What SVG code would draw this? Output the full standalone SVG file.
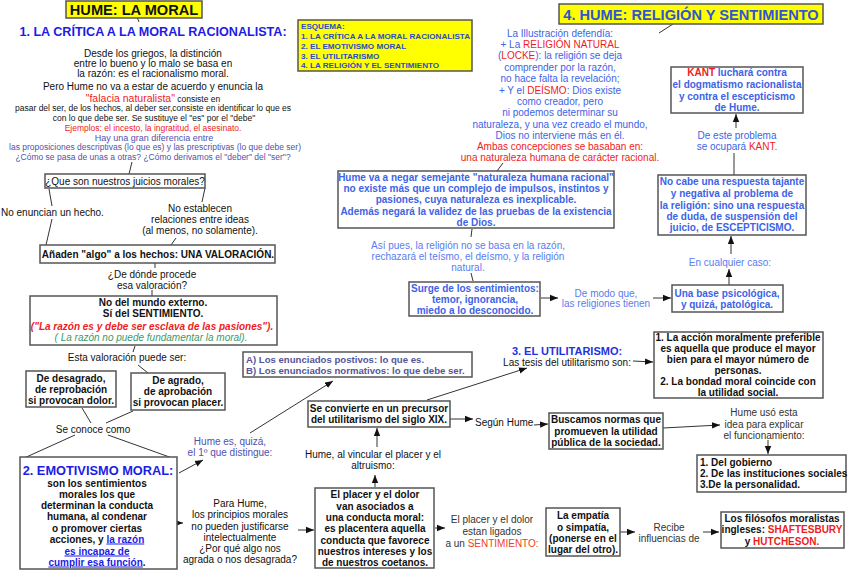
<svg xmlns="http://www.w3.org/2000/svg" width="848" height="570" viewBox="0 0 848 570">
<style>
text{font-family:"Liberation Sans",Arial,sans-serif;font-size:10px;fill:#111}
.c{text-anchor:middle}
.b{font-weight:bold}
.box{fill:#fff;stroke:#555;stroke-width:1.5}
.ybox{fill:#ffff00;stroke:#555;stroke-width:1.5}
.ln{stroke:#333;stroke-width:1;fill:none}
.ar{stroke:#333;stroke-width:1;fill:none;marker-end:url(#ah)}
.blue{fill:#3d63e6}
.lb{fill:#5a7cf0}
.red{fill:#ee1c1c}
.pur{fill:#5252a8}
.sec{fill:#1c1ce6;font-weight:bold}
.sm{font-size:8.5px}
.esq{font-size:8.1px;font-weight:bold;fill:#2a4cc8}
.ab{font-size:9.6px;font-weight:bold;fill:#55559a}
</style>
<defs>
<marker id="ah" viewBox="0 0 10 10" refX="10" refY="5" markerWidth="8" markerHeight="8" markerUnits="userSpaceOnUse" orient="auto"><path d="M0,1 L10,5 L0,9 z" fill="#111"/></marker>
</defs>

<g id="connectors">
<line class="ln" x1="137" y1="17" x2="139" y2="22"/>
<line class="ln" x1="132" y1="162" x2="129" y2="174"/>
<line class="ln" x1="49" y1="189" x2="52" y2="206"/>
<line class="ln" x1="52" y1="219" x2="46" y2="245"/>
<line class="ln" x1="205" y1="188" x2="202" y2="202"/>
<line class="ln" x1="171" y1="245" x2="176" y2="238"/>
<line class="ln" x1="155" y1="263" x2="155" y2="268"/>
<line class="ln" x1="152" y1="290" x2="152" y2="296"/>
<line class="ln" x1="135" y1="346" x2="133" y2="352"/>
<line class="ln" x1="138" y1="365" x2="148" y2="373"/>
<line class="ln" x1="82" y1="408" x2="91" y2="423"/>
<line class="ln" x1="133" y1="411" x2="106" y2="423"/>
<line class="ln" x1="75" y1="435" x2="22" y2="459"/>
<line class="ln" x1="108" y1="435" x2="175" y2="459"/>
<line class="ar" x1="179" y1="473" x2="203" y2="460"/>
<line class="ar" x1="250" y1="433" x2="333" y2="381"/>
<line class="ar" x1="177" y1="523" x2="183" y2="523"/>
<line class="ar" x1="298" y1="530" x2="314" y2="530"/>
<line class="ar" x1="375" y1="487" x2="375" y2="475"/>
<line class="ar" x1="377" y1="447" x2="377" y2="428"/>
<line class="ar" x1="427" y1="400" x2="527" y2="368"/>
<line class="ar" x1="633" y1="361" x2="653" y2="362"/>
<line class="ar" x1="450" y1="419" x2="473" y2="419"/>
<line class="ar" x1="534" y1="425" x2="548" y2="424"/>
<line class="ar" x1="663" y1="428" x2="720" y2="425"/>
<line class="ar" x1="768" y1="440" x2="768" y2="454"/>
<line class="ar" x1="435" y1="528" x2="445" y2="528"/>
<line class="ar" x1="620" y1="532" x2="635" y2="532"/>
<line class="ar" x1="703" y1="532" x2="719" y2="532"/>
<line class="ln" x1="673" y1="24" x2="659" y2="33"/>
<line class="ln" x1="503" y1="163" x2="497" y2="171"/>
<line class="ln" x1="472" y1="229" x2="471" y2="237"/>
<line class="ln" x1="471" y1="273" x2="473" y2="281"/>
<line class="ar" x1="541" y1="298" x2="558" y2="298"/>
<line class="ar" x1="653" y1="298" x2="671" y2="298"/>
<line class="ar" x1="729" y1="285" x2="729" y2="269"/>
<line class="ar" x1="731" y1="254" x2="731" y2="236"/>
<line class="ln" x1="734" y1="153" x2="734" y2="175"/>
<line class="ar" x1="736" y1="128" x2="736" y2="114"/>
</g>

<g id="title">
<rect class="ybox" x="66" y="1" width="136" height="17"/>
<text class="c b" x="134" y="15" style="font-size:14.6px">HUME: LA MORAL</text>
</g>

<g id="sec1">
<text class="c sec" x="153" y="36" style="font-size:12.6px">1. LA CRÍTICA A LA MORAL RACIONALISTA:</text>
<text class="c" x="153" y="57">Desde los griegos, la distinción</text>
<text class="c" x="153" y="67">entre lo bueno y lo malo se basa en</text>
<text class="c" x="153" y="77">la razón: es el racionalismo moral.</text>
<text class="c" x="153" y="90">Pero Hume no va  a estar de acuerdo y enuncia la</text>
<text class="c" x="153" y="102"><tspan class="red" style="font-size:10.5px">"falacia naturalista"</tspan><tspan class="sm"> consiste en</tspan></text>
<text class="c sm" x="153" y="111">pasar del ser, de los hechos, al deber ser,consiste en identificar lo que es</text>
<text class="c sm" x="154" y="121">con lo que debe ser. Se sustituye el "es" por el "debe"</text>
<text class="c sm red" x="153" y="131">Ejemplos: el incesto, la ingratitud, el asesinato.</text>
<text class="c pur" x="154" y="141" style="font-size:9px">Hay una gran diferencia entre</text>
<text class="c sm pur" x="155" y="150">las proposiciones descriptivas (lo que es) y las prescriptivas (lo que debe ser)</text>
<text class="c sm pur" x="153" y="160">¿Cómo se pasa de unas a otras? ¿Cómo derivamos el "deber" del "ser"?</text>
</g>

<g id="esquema">
<rect class="ybox" x="298" y="20" width="174" height="51"/>
<text class="esq" x="301" y="29">ESQUEMA:</text>
<text class="esq" x="301" y="39">1. LA CRÍTICA A LA MORAL RACIONALISTA</text>
<text class="esq" x="301" y="49">2. EL EMOTIVISMO MORAL</text>
<text class="esq" x="301" y="58.5">3. EL UTILITARISMO</text>
<text class="esq" x="301" y="68">4. LA RELIGIÓN Y EL SENTIMIENTO</text>
</g>

<g id="q-juicios">
<rect class="box" x="45" y="174" width="160" height="14"/>
<text class="c" x="125" y="184.5">¿Que son nuestros juicios morales?</text>
</g>
<g id="no-enuncian"><text x="1" y="215.5">No enuncian un hecho.</text></g>
<g id="no-establecen">
<text class="c" x="200" y="211.5">No establecen</text>
<text class="c" x="200" y="222.5">relaciones entre ideas</text>
<text class="c" x="200" y="233.5">(al menos, no solamente).</text>
</g>
<g id="anaden">
<rect class="box" x="40" y="245" width="235" height="18"/>
<text class="c b" x="158" y="257.5">Añaden "algo" a los hechos: UNA VALORACIÓN.</text>
</g>
<g id="de-donde">
<text class="c" x="152" y="277.5">¿De dónde procede</text>
<text class="c" x="152" y="289">esa valoración?</text>
</g>
<g id="sentimiento">
<rect class="box" x="30" y="296" width="247" height="49"/>
<text class="c b" x="153" y="305.5">No del mundo externo.</text>
<text class="c b" x="153" y="316.5">Sí del SENTIMIENTO.</text>
<text class="c b red" x="152" y="329.5" style="font-style:italic">("La razón es y debe ser esclava de las pasiones").</text>
<text class="c" x="151" y="340.5" style="font-style:italic;fill:#3a9a6a">( La razón no puede fundamentar la moral).</text>
</g>
<g id="esta-valoracion"><text class="c" x="127" y="360.5">Esta valoración puede ser:</text></g>
<g id="desagrado">
<rect class="box" x="26" y="371" width="90" height="36"/>
<text class="c b" x="71" y="381.5">De desagrado,</text>
<text class="c b" x="71" y="392.5">de reprobación</text>
<text class="c b" x="71" y="403.5">si provocan dolor.</text>
</g>
<g id="agrado">
<rect class="box" x="131" y="373" width="94" height="37"/>
<text class="c b" x="178" y="383.5">De agrado,</text>
<text class="c b" x="178" y="394.5">de aprobación</text>
<text class="c b" x="178" y="405.5">si provocan placer.</text>
</g>
<g id="se-conoce"><text class="c" x="93" y="432.5">Se conoce como</text></g>
<g id="emotivismo">
<rect class="box" x="20" y="457" width="157" height="112"/>
<text class="c sec" x="98" y="474.5" style="font-size:12.8px">2. EMOTIVISMO MORAL:</text>
<text class="c b" x="97" y="486.5">son los sentimientos</text>
<text class="c b" x="97" y="497.5">morales los que</text>
<text class="c b" x="97" y="508.5">determinan la conducta</text>
<text class="c b" x="97" y="519.5">humana, al condenar</text>
<text class="c b" x="97" y="531.5">o promover ciertas</text>
<text class="c b" x="97" y="542.5">acciones, y <tspan style="fill:#1c1ce6;text-decoration:underline">la razón </tspan></text>
<text class="c b" x="97" y="554.5"><tspan style="fill:#1c1ce6;text-decoration:underline">es incapaz de </tspan></text>
<text class="c b" x="97" y="565.5"><tspan style="fill:#1c1ce6;text-decoration:underline">cumplir esa función</tspan>.</text>
</g>
<g id="hume-distingue">
<text class="c" x="230" y="444.5" style="fill:#5050b0">Hume es, quizá,</text>
<text class="c" x="230" y="455.5" style="fill:#5050b0">el 1º que distingue:</text>
</g>
<g id="enunciados">
<rect class="box" x="243" y="352" width="229" height="25"/>
<text class="ab" x="246" y="362.5">A) Los enunciados postivos: lo que es.</text>
<text class="ab" x="246" y="374">B) Los enunciados normativos: lo que debe ser.</text>
</g>
<g id="para-hume">
<text class="c" x="240" y="506.5">Para Hume,</text>
<text class="c" x="240" y="517.5">los principios morales</text>
<text class="c" x="240" y="529.5">no pueden justificarse</text>
<text class="c" x="240" y="540.5">intelectualmente</text>
<text class="c" x="240" y="551.5">¿Por qué algo nos</text>
<text class="c" x="240" y="562.5">agrada o nos desagrada?</text>
</g>
<g id="placer-dolor">
<rect class="box" x="315" y="488" width="119" height="80"/>
<text class="c b" x="375" y="497.5">El placer y el dolor</text>
<text class="c b" x="375" y="509.5">van asociados a</text>
<text class="c b" x="375" y="520.5">una conducta moral:</text>
<text class="c b" x="375" y="531.5">es placentera aquella</text>
<text class="c b" x="375" y="543.5">conducta que favorece</text>
<text class="c b" x="375" y="554.5">nuestros intereses y los</text>
<text class="c b" x="375" y="565.5">de nuestros coetanos.</text>
</g>
<g id="hume-vincular">
<text class="c" x="373" y="457.5">Hume, al vincular el placer y el</text>
<text class="c" x="373" y="468.5">altruismo:</text>
</g>
<g id="precursor">
<rect class="box" x="308" y="401" width="142" height="26"/>
<text class="c b" x="379" y="411.5">Se convierte en un precursor</text>
<text class="c b" x="379" y="422.5">del utilitarismo del siglo XIX.</text>
</g>
<g id="utilitarismo">
<text class="c sec" x="567" y="355" style="font-size:11px;fill:#2233dd">3. EL UTILITARISMO:</text>
<text class="c" x="567" y="365.5">Las tesis del utilitarismo son:</text>
</g>
<g id="tesis">
<rect class="box" x="654" y="332" width="169" height="66"/>
<text class="c b" x="738" y="341">1. La acción moralmente preferible</text>
<text class="c b" x="738" y="352">es aquella que produce el mayor</text>
<text class="c b" x="738" y="363">bien para el mayor número de</text>
<text class="c b" x="738" y="374">personas.</text>
<text class="c b" x="738" y="385">2. La bondad moral coincide con</text>
<text class="c b" x="738" y="395.5">la utilidad social.</text>
</g>
<g id="segun-hume"><text x="475" y="426">Según Hume</text></g>
<g id="buscamos">
<rect class="box" x="549" y="413" width="114" height="36"/>
<text class="c b" x="606" y="422.5">Buscamos normas que</text>
<text class="c b" x="606" y="434.5">promueven la utilidad</text>
<text class="c b" x="606" y="445.5">pública de la sociedad.</text>
</g>
<g id="hume-uso">
<text class="c" x="764" y="415.5" style="fill:#333">Hume usó esta</text>
<text class="c" x="764" y="427.5" style="fill:#333">idea para explicar</text>
<text class="c" x="764" y="438.5" style="fill:#333">el funcionamiento:</text>
</g>
<g id="gobierno">
<rect class="box" x="697" y="455" width="149" height="37"/>
<text class="b" x="700" y="465.5">1. Del gobierno</text>
<text class="b" x="700" y="476.5">2. De las instituciones sociales</text>
<text class="b" x="700" y="487.5">3.De la personalidad.</text>
</g>
<g id="ligados">
<text class="c" x="492" y="522.5" style="fill:#333">El placer y el dolor</text>
<text class="c" x="492" y="534.5" style="fill:#333">estan ligados</text>
<text class="c" x="492" y="546.5" style="fill:#333">a un <tspan style="fill:#f0401c">SENTIMIENTO:</tspan></text>
</g>
<g id="empatia">
<rect class="box" x="546" y="508" width="74" height="48"/>
<text class="c b" x="583" y="518.5">La empatía</text>
<text class="c b" x="583" y="530.5">o simpatía,</text>
<text class="c b" x="583" y="541.5">(ponerse en el</text>
<text class="c b" x="583" y="552.5">lugar del otro).</text>
</g>
<g id="recibe">
<text class="c" x="669" y="530.5" style="fill:#333">Recibe</text>
<text class="c" x="669" y="541.5" style="fill:#333">influencias de</text>
</g>
<g id="filosofos">
<rect class="box" x="721" y="512" width="123" height="36"/>
<text class="c b" x="782" y="521.5">Los filósofos moralistas</text>
<text class="c b" x="782" y="532.5">ingleses: <tspan class="red">SHAFTESBURY</tspan></text>
<text class="c b" x="782" y="544.5">y <tspan class="red">HUTCHESON.</tspan></text>
</g>

<g id="sec4-title">
<rect class="ybox" x="559" y="4" width="264" height="20"/>
<text class="c b" x="691" y="20" style="font-size:14.6px;fill:#2f55d4">4. HUME: RELIGIÓN Y SENTIMIENTO</text>
</g>
<g id="ilustracion">
<text class="c blue" x="560" y="37">La Illustración defendía:</text>
<text class="c blue" x="560" y="48">+ La <tspan class="red">RELIGIÓN NATURAL</tspan></text>
<text class="c blue" x="560" y="59">(<tspan class="red">LOCKE</tspan>): la religión se deja</text>
<text class="c blue" x="560" y="71">comprender por la razón,</text>
<text class="c blue" x="560" y="82">no hace falta la revelación;</text>
<text class="c blue" x="560" y="93.5">+ Y el <tspan class="red">DEÍSMO</tspan>: Dios existe</text>
<text class="c blue" x="560" y="104.5">como creador, pero</text>
<text class="c blue" x="560" y="116">ni podemos determinar su</text>
<text class="c blue" x="560" y="127.5">naturaleza, y una vez creado el mundo,</text>
<text class="c blue" x="560" y="139">Dios no interviene más en él.</text>
<text class="c red" x="560" y="150">Ambas concepciones se basaban en:</text>
<text class="c red" x="560" y="161">una naturaleza humana de carácter racional.</text>
</g>
<g id="hume-negar">
<rect class="box" x="338" y="171" width="276" height="57"/>
<text class="c b blue" x="476" y="180.5">Hume va a negar semejante "naturaleza humana racional"</text>
<text class="c b blue" x="476" y="191.5">no existe más que un complejo de impulsos, instintos y</text>
<text class="c b blue" x="476" y="202.5">pasiones, cuya naturaleza es inexplicable.</text>
<text class="c b blue" x="476" y="214.5">Además negará la validez de las pruebas de la existencia</text>
<text class="c b blue" x="476" y="225.5">de Dios.</text>
</g>
<g id="asi-pues">
<text class="c lb" x="468" y="248.5">Así pues, la religión no se basa en la razón,</text>
<text class="c lb" x="468" y="259.5">rechazará el teísmo, el deísmo, y la religión</text>
<text class="c lb" x="468" y="270.5">natural.</text>
</g>
<g id="surge">
<rect class="box" x="409" y="282" width="131" height="34"/>
<text class="c b blue" x="475" y="291.5">Surge de los sentimientos:</text>
<text class="c b blue" x="475" y="302.5">temor, ignorancia,</text>
<text class="c b blue" x="475" y="314">miedo a lo desconocido.</text>
</g>
<g id="de-modo">
<text class="c lb" x="606" y="296.5">De modo que,</text>
<text class="c lb" x="606" y="306.5">las religiones tienen</text>
</g>
<g id="base">
<rect class="box" x="672" y="285" width="111" height="27"/>
<text class="c b blue" x="727" y="296.5">Una base psicológica,</text>
<text class="c b blue" x="727" y="307.5">y quizá, patológica.</text>
</g>
<g id="cualquier"><text class="c lb" x="730" y="265.5">En cualquier caso:</text></g>
<g id="no-cabe">
<rect class="box" x="658" y="175" width="148" height="60"/>
<text class="c b blue" x="732" y="185">No cabe una respuesta tajante</text>
<text class="c b blue" x="732" y="197">y negativa al problema de</text>
<text class="c b blue" x="732" y="208.5">la religión: sino una respuesta</text>
<text class="c b blue" x="732" y="220">de duda, de suspensión del</text>
<text class="c b blue" x="732" y="231">juicio, de ESCEPTICISMO.</text>
</g>
<g id="este-problema">
<text class="c blue" x="737" y="138.5">De este problema</text>
<text class="c blue" x="737" y="149.5">se ocupará <tspan class="red">KANT</tspan>.</text>
</g>
<g id="kant">
<rect class="box" x="671" y="67" width="132" height="46"/>
<text class="c b blue" x="737" y="76"><tspan class="red">KANT</tspan> luchará contra</text>
<text class="c b blue" x="737" y="88">el dogmatismo racionalista</text>
<text class="c b blue" x="737" y="99.5">y contra el escepticismo</text>
<text class="c b blue" x="737" y="111">de Hume.</text>
</g>
</svg>
